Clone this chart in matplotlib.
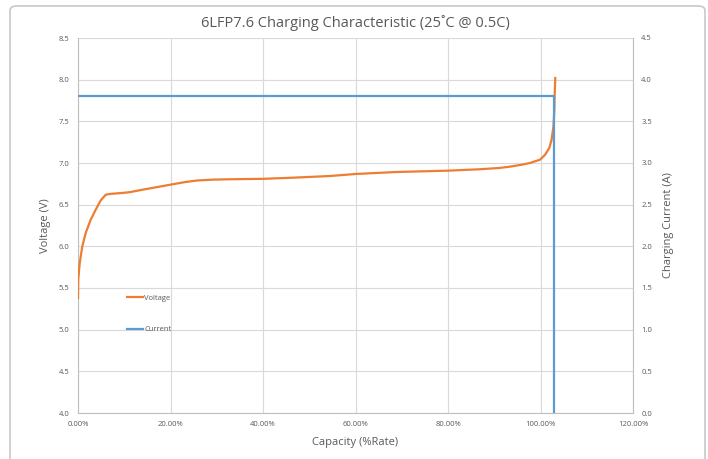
import matplotlib.pyplot as plt
from matplotlib.patches import FancyBboxPatch

# Voltage curve (capacity %, volts)
capacity_v = [0, 0.05, 0.37, 0.93, 1.66, 2.75, 3.83, 4.9, 6.0, 7.1, 9.5, 11.2, 14, 17, 20, 23, 25.7, 29,
              32.9, 40, 47, 54.5, 60, 68.8, 80, 86.9, 91, 93.4, 96, 97.7, 99.9, 101.0, 101.9, 102.4,
              102.8, 103.0, 103.1, 103.2]
voltage = [5.38, 5.60, 5.80, 6.00, 6.16, 6.32, 6.44, 6.55, 6.62, 6.63, 6.64, 6.65, 6.68, 6.71, 6.74, 6.77, 6.79, 6.80,
           6.805, 6.81, 6.825, 6.844, 6.868, 6.892, 6.908, 6.925, 6.94, 6.956, 6.98, 7.00, 7.04, 7.10, 7.18, 7.28,
           7.44, 7.64, 7.88, 8.02]

# Current curve (capacity %, amps)
capacity_i = [0, 103.0, 103.0]
current = [3.8, 3.8, 0.0]

x_ticks = [0, 20, 40, 60, 80, 100, 120]
v_ticks = [4.0, 4.5, 5.0, 5.5, 6.0, 6.5, 7.0, 7.5, 8.0, 8.5]
i_ticks = [0.0, 0.5, 1.0, 1.5, 2.0, 2.5, 3.0, 3.5, 4.0, 4.5]

plt.rcParams['font.family'] = ['Open Sans', 'DejaVu Sans']
grey = "#595959"

fig = plt.figure(figsize=(7.08, 4.59), dpi=100)
# rounded outer frame, behind everything
frame = FancyBboxPatch((10 / 708, -0.05), 695 / 708, 1.037, boxstyle="round,pad=0,rounding_size=0.01",
                       transform=fig.transFigure, facecolor="white", edgecolor="#c8c8c8", lw=1.2, zorder=-5)
fig.patches.append(frame)

ax = fig.add_axes([78 / 708, 1 - 413 / 459, 555 / 708, 375 / 459])
ax.set_facecolor("none")
ax2 = ax.twinx()

l1, = ax.plot(capacity_v, voltage, color="#ED7D31", lw=1.6, label="Voltage", zorder=3,
              solid_joinstyle="round")
l2, = ax2.plot(capacity_i, current, color="#5B9BD5", lw=1.6, label="Current", zorder=2)

ax.set_xlim(0, 120)
ax.set_ylim(4.0, 8.5)
ax2.set_ylim(0, 4.5)
ax.set_xticks(x_ticks)
ax.set_xticklabels([f"{t:.2f}%" for t in x_ticks])
ax.set_yticks(v_ticks)
ax.set_yticklabels([f"{t:.1f}" for t in v_ticks])
ax2.set_yticks(i_ticks)
ax2.set_yticklabels([f"{t:.1f}" for t in i_ticks])

ax.grid(True, color="#d9d9d9", lw=0.8)
ax.set_axisbelow(True)
for a in (ax, ax2):
    for s in a.spines.values():
        s.set_visible(False)
    a.tick_params(length=0, labelsize=5.5, labelcolor=grey, pad=6)
ax.spines["left"].set_visible(True)
ax.spines["left"].set_color("#bfbfbf")
ax.spines["bottom"].set_visible(True)
ax.spines["bottom"].set_color("#bfbfbf")
ax2.spines["right"].set_visible(True)
ax2.spines["right"].set_color("#bfbfbf")

ax.set_title("6LFP7.6 Charging Characteristic (25˚C @ 0.5C)", fontsize=10.5, color=grey, pad=8)
ax.set_xlabel("Capacity (%Rate)", fontsize=8, color=grey, labelpad=6)
ax.set_ylabel("Voltage (V)", fontsize=8, color=grey, labelpad=6)
ax2.set_ylabel("Charging Current (A)", fontsize=8, color=grey, labelpad=8)

leg = ax.legend([l1, l2], ["Voltage", "Current"], loc="upper left", bbox_to_anchor=(0.075, 0.335),
                frameon=False, fontsize=5.5, handlelength=2.2, handletextpad=0.1, labelspacing=3.2)
for t in leg.get_texts():
    t.set_color(grey)

fig.savefig("out.png", dpi=100)
